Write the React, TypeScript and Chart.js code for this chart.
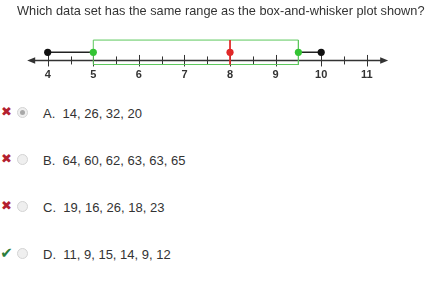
import React, { useEffect, useRef } from "react";
import { Chart, registerables } from "chart.js";

Chart.register(...registerables);

const question = "Which data set has the same range as the box-and-whisker plot shown?";
const tickValues = [4, 4.5, 5, 5.5, 6, 6.5, 7, 7.5, 8, 8.5, 9, 9.5, 10, 10.5, 11];
const labelValues = [4, 5, 6, 7, 8, 9, 10, 11];
const whiskerMin = 4;
const quartile1 = 5;
const medianValue = 8;
const quartile3 = 9.5;
const whiskerMax = 10;
const optionLetters = ["A", "B", "C", "D"];
const optionTexts = ["14, 26, 32, 20", "64, 60, 62, 63, 63, 65", "19, 16, 26, 18, 23", "11, 9, 15, 14, 9, 12"];
const optionCorrect = [false, false, false, true];
const optionSelected = [true, false, false, false];

const AXIS_Y = 0;
const POINT_Y = 1;
const BOX_TOP = 2.5;
const BOX_BOTTOM = -0.5;

const GREEN = "#5cc85c";
const GREEN_DOT = "#33c433";
const RED = "#e02828";
const BLACK = "#111111";
const AXIS = "#333333";

const numberLinePlugin = {
  id: "numberLine",
  beforeDatasetsDraw(chart: any) {
    const ctx = chart.ctx;
    const xs = chart.scales.x;
    const ys = chart.scales.y;
    const y = ys.getPixelForValue(AXIS_Y);
    const left = xs.left;
    const right = xs.right;
    ctx.save();
    ctx.strokeStyle = AXIS;
    ctx.fillStyle = AXIS;
    ctx.lineWidth = 1.5;
    ctx.beginPath();
    ctx.moveTo(left + 4, y);
    ctx.lineTo(right - 4, y);
    ctx.stroke();
    ctx.beginPath();
    ctx.moveTo(left, y);
    ctx.lineTo(left + 8, y - 3.2);
    ctx.lineTo(left + 8, y + 3.2);
    ctx.closePath();
    ctx.fill();
    ctx.beginPath();
    ctx.moveTo(right, y);
    ctx.lineTo(right - 8, y - 3.2);
    ctx.lineTo(right - 8, y + 3.2);
    ctx.closePath();
    ctx.fill();
    ctx.lineWidth = 1;
    tickValues.forEach((v) => {
      const x = Math.round(xs.getPixelForValue(v)) + 0.5;
      const major = labelValues.includes(v);
      ctx.beginPath();
      ctx.moveTo(x, y - (major ? 5.5 : 4));
      ctx.lineTo(x, y + (major ? 6 : 4));
      ctx.stroke();
    });
    ctx.restore();
  },
};

function NumberLineChart() {
  const ref = useRef<HTMLCanvasElement | null>(null);
  useEffect(() => {
    if (!ref.current) return;
    const line = (data: any[], color: string, width: number) => ({
      data,
      showLine: true,
      borderColor: color,
      backgroundColor: color,
      borderWidth: width,
      pointRadius: 0,
      pointHoverRadius: 0,
      fill: false,
      tension: 0,
    });
    const dots = (data: any[], color: string) => ({
      data,
      showLine: false,
      borderColor: color,
      backgroundColor: color,
      borderWidth: 0,
      pointRadius: 3.6,
      pointHoverRadius: 3.6,
    });
    const chart = new Chart(ref.current, {
      type: "scatter",
      data: {
        datasets: [
          dots([{ x: medianValue, y: POINT_Y }], RED),
          dots([{ x: quartile1, y: POINT_Y }, { x: quartile3, y: POINT_Y }], GREEN_DOT),
          dots([{ x: whiskerMin, y: POINT_Y }, { x: whiskerMax, y: POINT_Y }], BLACK),
          line([{ x: medianValue, y: BOX_TOP }, { x: medianValue, y: BOX_BOTTOM }], RED, 1),
          line([{ x: whiskerMin, y: POINT_Y }, { x: quartile1, y: POINT_Y }], "#222222", 1.5),
          line([{ x: quartile3, y: POINT_Y }, { x: whiskerMax, y: POINT_Y }], "#222222", 1.5),
          line(
            [
              { x: quartile1, y: BOX_TOP },
              { x: quartile3, y: BOX_TOP },
              { x: quartile3, y: BOX_BOTTOM },
              { x: quartile1, y: BOX_BOTTOM },
              { x: quartile1, y: BOX_TOP },
            ],
            GREEN,
            1
          ),
        ] as any,
      },
      options: {
        animation: false,
        responsive: false,
        events: [],
        layout: { padding: { left: 27.2, right: 41.8, top: 36, bottom: 5.25 } },
        plugins: { legend: { display: false }, tooltip: { enabled: false }, title: { display: false } },
        scales: {
          x: {
            type: "linear",
            min: 3.55,
            max: 11.47,
            border: { display: false },
            grid: { display: false, drawTicks: false },
            afterBuildTicks: (scale: any) => {
              scale.ticks = tickValues.map((v) => ({ value: v }));
            },
            ticks: {
              autoSkip: false,
              maxRotation: 0,
              padding: 3,
              color: "#333333",
              font: { family: "Liberation Sans, Arial, sans-serif", size: 11, weight: "bold" },
              callback: (v: any) => (labelValues.includes(Number(v)) ? String(v) : ""),
            },
          },
          y: {
            type: "linear",
            display: false,
            min: -0.625,
            max: 3,
          },
        },
      } as any,
      plugins: [numberLinePlugin],
    });
    return () => chart.destroy();
  }, []);
  return <canvas ref={ref} width={430} height={90} style={{ position: "absolute", left: 0, top: 0, width: 430, height: 90 }} />;
}

export default function App() {
  const font = "'Liberation Sans', Arial, sans-serif";
  return (
    <div style={{ position: "fixed", left: 0, top: 0, width: 430, height: 297, background: "#ffffff", overflow: "hidden", fontFamily: font }}>
      <NumberLineChart />
      <div style={{ position: "absolute", left: 17, top: 3, fontSize: 12.75, color: "#333333", whiteSpace: "nowrap", lineHeight: "16px" }}>
        {question}
      </div>
      {optionLetters.map((letter, i) => {
        const cy = 113 + i * 47;
        return (
          <div key={letter}>
            <div
              style={{
                position: "absolute",
                left: 0,
                top: cy - 10,
                width: 13,
                height: 18,
                lineHeight: "18px",
                fontSize: optionCorrect[i] ? 15 : 13,
                fontFamily: "'DejaVu Sans', sans-serif",
                fontWeight: "bold",
                color: optionCorrect[i] ? "#2b7d3c" : "#b3202e",
                textAlign: "center",
              }}
            >
              {optionCorrect[i] ? "✔" : "✖"}
            </div>
            <div
              style={{
                position: "absolute",
                left: 17,
                top: cy - 6,
                width: 9,
                height: 9,
                borderRadius: "50%",
                border: "1px solid #d4d4d4",
                background: "#efefef",
              }}
            >
              {optionSelected[i] ? (
                <div style={{ position: "absolute", left: 2, top: 2, width: 5, height: 5, borderRadius: "50%", background: "#a8a8a8" }} />
              ) : null}
            </div>
            <div style={{ position: "absolute", left: 43, top: cy - 7, fontSize: 13, lineHeight: "16px", color: "#333333", whiteSpace: "pre" }}>
              {letter + ".  " + optionTexts[i]}
            </div>
          </div>
        );
      })}
    </div>
  );
}
